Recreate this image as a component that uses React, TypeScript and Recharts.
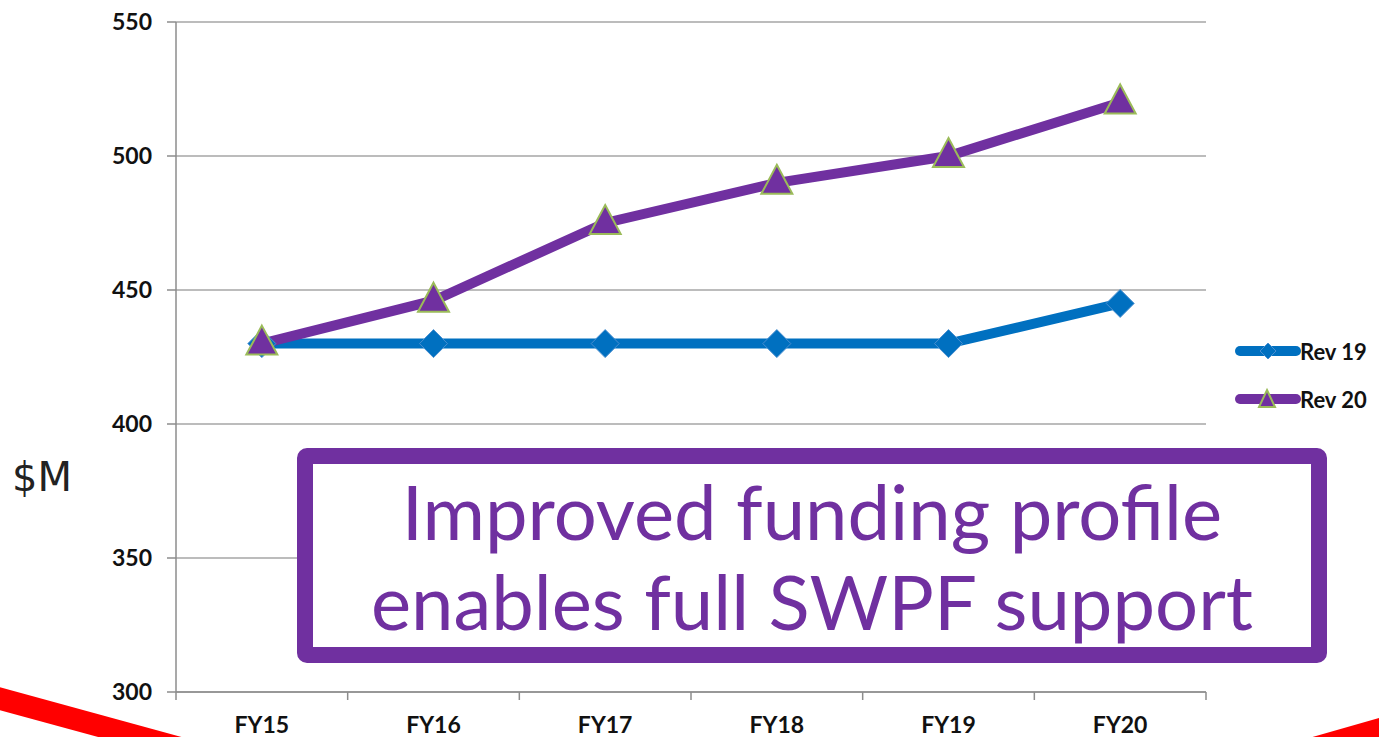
import React from 'react';
import { LineChart, Line, XAxis, YAxis, CartesianGrid, Legend } from 'recharts';

const categories = ['FY15', 'FY16', 'FY17', 'FY18', 'FY19', 'FY20'];
const rev19 = [430, 430, 430, 430, 430, 445];
const rev20 = [430, 446, 475, 490, 500, 520];
const yTicks = [300, 350, 400, 450, 500, 550];
const seriesNames = ['Rev 19', 'Rev 20'];
const calloutLines = ['Improved funding profile', 'enables full SWPF support'];
const axisTitle = '$M';

const data = categories.map((c, i) => ({ name: c, r19: rev19[i], r20: rev20[i] }));

const BLUE = '#0070C0';
const PURPLE = '#7030A0';
const GREEN = '#9BBB59';
const GRID = '#A6A6A6';
const FONT = 'Lato, "Open Sans", sans-serif';
const LEGEND_W = 145;

const Diamond = (props: any) => {
  const { cx, cy, index } = props;
  if (cx == null || cy == null) return <g key={`d${index}`} />;
  const r = 14;
  return (
    <path
      key={`d${index}`}
      d={`M${cx},${cy - r} L${cx + r},${cy} L${cx},${cy + r} L${cx - r},${cy} Z`}
      fill={BLUE}
      stroke="#4A8FD0"
      strokeWidth={1}
    />
  );
};

const Triangle = (props: any) => {
  const { cx, cy, index } = props;
  if (cx == null || cy == null) return <g key={`t${index}`} />;
  const h = 29;
  const w = 31;
  return (
    <path
      key={`t${index}`}
      d={`M${cx},${cy - h * 0.62} L${cx + w / 2},${cy + h * 0.38} L${cx - w / 2},${cy + h * 0.38} Z`}
      fill={PURPLE}
      stroke={GREEN}
      strokeWidth={2}
    />
  );
};

const XTick = (props: any) => {
  const { x, y, payload, index } = props;
  const left = payload.coordinate - payload.offset;
  const right = payload.coordinate + payload.offset;
  return (
    <g>
      <line x1={left} y1={y} x2={left} y2={y + 8} stroke="#8C8C8C" strokeWidth={1.5} />
      {index === categories.length - 1 && (
        <line x1={right} y1={y} x2={right} y2={y + 8} stroke="#8C8C8C" strokeWidth={1.5} />
      )}
      <text
        x={x}
        y={y + 41}
        textAnchor="middle"
        fontFamily={FONT}
        fontWeight="bold"
        fontSize={23}
        fill="#111"
      >
        {payload.value}
      </text>
    </g>
  );
};

const LegendContent = (props: any) => {
  const payload = props.payload || [];
  return (
    <div style={{ display: 'flex', flexDirection: 'column', gap: 20, width: LEGEND_W }}>
      {payload.map((p: any, i: number) => (
        <div key={i} style={{ display: 'flex', alignItems: 'center', height: 28 }}>
          <svg width={68} height={28}>
            <line x1={6} y1={14} x2={62} y2={14} stroke={p.color} strokeWidth={10} strokeLinecap="round" />
            {i === 0 ? (
              <path d="M34,6 L42,14 L34,22 L26,14 Z" fill={BLUE} stroke="#4A8FD0" strokeWidth={1} />
            ) : (
              <path d="M33,5 L41,22 L25,22 Z" fill={PURPLE} stroke={GREEN} strokeWidth={2} />
            )}
          </svg>
          <span
            style={{
              fontFamily: FONT,
              fontWeight: 'bold',
              fontSize: 22,
              color: '#111',
              marginLeft: -2,
              whiteSpace: 'nowrap',
            }}
          >
            {p.value}
          </span>
        </div>
      ))}
    </div>
  );
};

export default function App() {
  return (
    <div
      style={{
        position: 'absolute',
        left: 0,
        top: 0,
        width: 1379,
        height: 737,
        overflow: 'hidden',
        background: '#fff',
      }}
    >
      <LineChart
        width={1379}
        height={737}
        data={data}
        margin={{ top: 22, right: 173 - LEGEND_W, bottom: 0, left: 0 }}
      >
        <CartesianGrid vertical={false} stroke={GRID} strokeWidth={1.5} />
        <XAxis
          dataKey="name"
          scale="band"
          height={45}
          tickLine={false}
          tickSize={0}
          tickMargin={0}
          axisLine={{ stroke: '#8C8C8C', strokeWidth: 1.5 }}
          tick={<XTick />}
          interval={0}
        />
        <YAxis
          width={176}
          domain={[300, 550]}
          ticks={yTicks}
          interval={0}
          tickSize={9}
          tickMargin={15}
          axisLine={{ stroke: '#8C8C8C', strokeWidth: 1.5 }}
          tickLine={{ stroke: '#8C8C8C', strokeWidth: 1.5 }}
          tick={{ fontFamily: FONT, fontWeight: 'bold', fontSize: 23, fill: '#111' }}
        />
        <Legend
          content={<LegendContent />}
          layout="vertical"
          align="right"
          verticalAlign="middle"
          wrapperStyle={{ position: 'absolute', left: 1234, top: 337, width: LEGEND_W }}
        />
        <Line
          dataKey="r19"
          name={seriesNames[0]}
          stroke={BLUE}
          strokeWidth={10}
          dot={Diamond}
          activeDot={false}
          isAnimationActive={false}
        />
        <Line
          dataKey="r20"
          name={seriesNames[1]}
          stroke={PURPLE}
          strokeWidth={10}
          dot={Triangle}
          activeDot={false}
          isAnimationActive={false}
        />
      </LineChart>

      <div
        style={{
          position: 'absolute',
          left: 12,
          top: 454,
          fontFamily: '"DejaVu Sans", sans-serif',
          fontSize: 40,
          color: '#222',
        }}
      >
        {axisTitle}
      </div>

      <div
        style={{
          position: 'absolute',
          left: 297,
          top: 448,
          width: 1030,
          height: 215,
          boxSizing: 'border-box',
          border: `16px solid ${PURPLE}`,
          borderRadius: 10,
          background: '#fff',
          display: 'flex',
          flexDirection: 'column',
          alignItems: 'center',
          justifyContent: 'center',
          fontFamily: FONT,
          fontSize: 76,
          lineHeight: '90px',
          color: PURPLE,
        }}
      >
        {calloutLines.map((l, i) => (
          <div key={i} style={{ whiteSpace: 'nowrap' }}>
            {l}
          </div>
        ))}
      </div>

      <svg
        width={1379}
        height={737}
        style={{ position: 'absolute', left: 0, top: 0, pointerEvents: 'none' }}
      >
        <line x1={-10} y1={696} x2={180} y2={748} stroke="#FF0000" strokeWidth={22} />
        <line x1={1300} y1={752} x2={1395} y2={725} stroke="#FF0000" strokeWidth={22} />
      </svg>
    </div>
  );
}
